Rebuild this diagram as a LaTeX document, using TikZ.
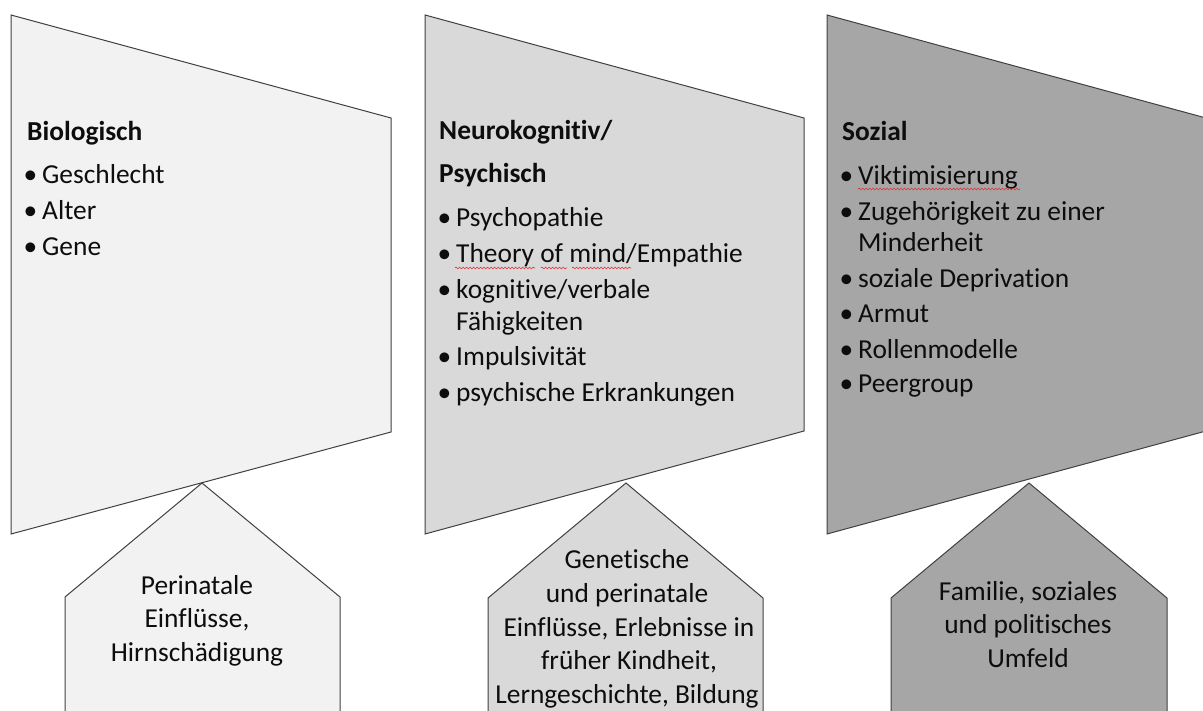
\documentclass[tikz,border=0pt]{standalone}
\usepackage{fontspec}
\setmainfont{Carlito}[RawFeature={-liga;-clig;-dlig}]
\usetikzlibrary{calc,decorations.pathmorphing}
\definecolor{fillA}{HTML}{F2F2F2}
\definecolor{fillB}{HTML}{D9D9D9}
\definecolor{fillC}{HTML}{A6A6A6}
\definecolor{edge}{HTML}{404040}
\definecolor{txt}{HTML}{0D0D0D}
\definecolor{spell}{HTML}{E03030}
\tikzset{
  panel/.style={draw=edge, line width=1pt, line join=miter},
  basefont/.style={font=\fontsize{27.4}{33}\selectfont, text=txt},
  head/.style={basefont, anchor=base west, inner sep=0pt, font=\fontsize{27.4}{33}\selectfont\bfseries},
  itm/.style={basefont, anchor=base west, inner sep=0pt},
  bul/.style={itm, execute at begin node={\llap{•\hspace{5pt}}}},
  btxt/.style={basefont, anchor=base, inner sep=0pt},
  squiggle/.style={draw=spell, line width=0.6pt, decorate,
    decoration={snake, amplitude=0.9pt, segment length=3.5pt}}
}
\begin{document}
\begin{tikzpicture}[x=1pt, y=-1pt]
\useasboundingbox (0,0) rectangle (1203,711);
\clip (0,0) rectangle (1203,711);

% panels
\draw[panel, fill=fillA] (11,15) -- (391,118) -- (391,432) -- (11,534) -- cycle;
\draw[panel, fill=fillB] (425,15) -- (804,118) -- (804,431) -- (425,534) -- cycle;
\draw[panel, fill=fillC] (827,15) -- (1206,118) -- (1206,431) -- (827,534) -- cycle;

% pentagons
\draw[panel, fill=fillA] (202,483) -- (340,597) -- (340,725) -- (65,725) -- (65,597) -- cycle;
\draw[panel, fill=fillB] (626,483) -- (763,598) -- (763,725) -- (488,725) -- (488,598) -- cycle;
\draw[panel, fill=fillC] (1029,483) -- (1167,598) -- (1167,725) -- (891,725) -- (891,598) -- cycle;

% panel 1
\node[head] (h1) at (27,141) {Biologisch};
\node[bul] (a1) at (42,184) {Geschlecht};
\node[bul] (a2) at (42,220) {Alter};
\node[bul] (a3) at (42,256) {Gene};

% panel 2
\node[head] (h2a) at (439,140) {Neurokognitiv/};
\node[head] (h2b) at (439,183) {Psychisch};
\node[bul] (b1) at (456,227) {Psychopathie};
\node[bul] (b2) at (456,263) {Theory of mind/Empathie};
\node[bul] (b3) at (456,299) {kognitive/verbale};
\node[itm] (b3b) at (456,331) {Fähigkeiten};
\node[bul] (b4) at (456,366) {Impulsivität};
\node[bul] (b5) at (456,402) {psychische Erkrankungen};

% panel 3
\node[head] (h3) at (842,141) {Sozial};
\node[bul] (c1) at (858,185) {Viktimisierung};
\node[bul] (c2) at (858,221) {Zugehörigkeit zu einer};
\node[itm] (c2b) at (858,252) {Minderheit};
\node[bul] (c3) at (858,288) {soziale Deprivation};
\node[bul] (c4) at (858,323) {Armut};
\node[bul] (c5) at (858,359) {Rollenmodelle};
\node[bul] (c6) at (858,393) {Peergroup};

% spell-check squiggles
\draw[squiggle] ($(b2.base west)+(-1,5)$) -- ($(b2.base west)+(79,5)$);
\draw[squiggle] ($(b2.base west)+(85,5)$) -- ($(b2.base west)+(111,5)$);
\draw[squiggle] ($(b2.base west)+(116,5)$) -- ($(b2.base west)+(175,5)$);
\draw[squiggle] ($(c1.base west)+(0,4)$) -- ($(c1.base east)+(2,4)$);

% bottom texts
\node[btxt] (p1a) at (197,594) {Perinatale};
\node[btxt] (p1b) at (197,627) {Einflüsse,};
\node[btxt] (p1c) at (197,661) {Hirnschädigung};

\node[btxt] (p2a) at (627,568) {Genetische};
\node[btxt] (p2b) at (627,602) {und perinatale};
\node[btxt] (p2c) at (629,636) {Einflüsse, Erlebnisse in};
\node[btxt] (p2d) at (629,669) {früher Kindheit,};
\node[btxt] (p2e) at (627,703) {Lerngeschichte, Bildung};

\node[btxt] (p3a) at (1028,600) {Familie, soziales};
\node[btxt] (p3b) at (1028,633) {und politisches};
\node[btxt] (p3c) at (1028,667) {Umfeld};
\end{tikzpicture}
\end{document}
